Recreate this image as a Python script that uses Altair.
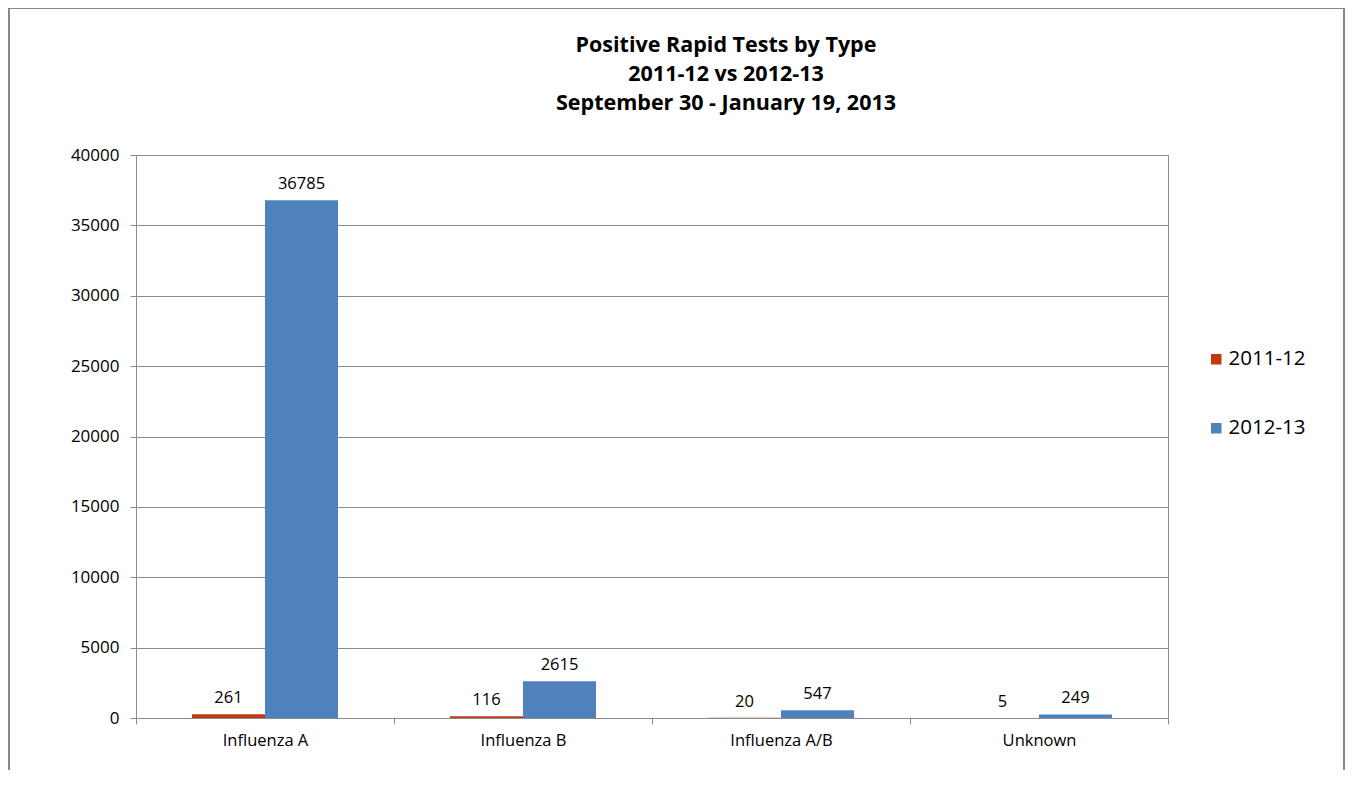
import altair as alt
import pandas as pd

categories = ["Influenza A", "Influenza B", "Influenza A/B", "Unknown"]
seasons = ["2011-12", "2012-13"]
values_2011_12 = [261, 116, 20, 5]
values_2012_13 = [36785, 2615, 547, 249]
y_ticks = [0, 5000, 10000, 15000, 20000, 25000, 30000, 35000, 40000]
colors = ["#BF3A10", "#4F81BD"]
title_lines = ["Positive Rapid Tests by Type", "2011-12 vs 2012-13",
               "September 30 - January 19, 2013"]

rows = []
for c, a, b in zip(categories, values_2011_12, values_2012_13):
    rows.append({"type": c, "season": seasons[0], "value": a})
    rows.append({"type": c, "season": seasons[1], "value": b})
df = pd.DataFrame(rows)

FONT = "Open Sans"
GRAY = "#8C8C8C"

x_scale = alt.Scale(paddingInner=0, paddingOuter=0)
off_scale = alt.Scale(paddingInner=0, paddingOuter=0.767)

x_enc = alt.X(
    "type:N",
    sort=categories,
    scale=x_scale,
    axis=alt.Axis(
        title=None, labelAngle=0, labelFontSize=16.5, labelFont=FONT,
        labelColor="#000000", tickBand="extent", tickSize=6,
        tickColor=GRAY, domainColor=GRAY, labelPadding=8,
    ),
)
xoff = alt.XOffset("season:N", sort=seasons, scale=off_scale)
y_enc = alt.Y(
    "value:Q",
    scale=alt.Scale(domain=[0, 40000], nice=False),
    axis=alt.Axis(
        title=None, values=y_ticks, format="d", labelFontSize=17,
        labelFont=FONT, labelColor="#000000", tickSize=6, tickColor=GRAY,
        domainColor=GRAY, gridColor=GRAY, labelPadding=11,
    ),
)

base = alt.Chart(df)

bars = base.mark_bar().encode(
    x=x_enc,
    xOffset=xoff,
    y=y_enc,
    color=alt.Color(
        "season:N",
        scale=alt.Scale(domain=seasons, range=colors),
        legend=alt.Legend(
            title=None, orient="none", legendX=1070, legendY=194,
            symbolType="square", symbolSize=110, symbolStrokeWidth=0,
            labelFontSize=20.5, labelFont=FONT, labelColor="#000000",
            rowPadding=48, labelOffset=2,
        ),
    ),
)

labels = base.mark_text(dy=-16, fontSize=16.5, font=FONT, color="#000000").encode(
    x=alt.X("type:N", sort=categories, scale=x_scale),
    xOffset=alt.XOffset("season:N", sort=seasons, scale=off_scale),
    y=alt.Y("value:Q"),
    text=alt.Text("value:Q", format="d"),
)

tdf = pd.DataFrame({"line": title_lines, "yy": [-109, -80, -51]})
title = alt.Chart(tdf).mark_text(
    font=FONT, fontSize=21.5, fontWeight="bold", color="#000000",
    align="center", baseline="middle",
).encode(
    x=alt.value(590),
    y=alt.Y("yy:Q", scale=None),
    text="line:N",
)

frame = alt.Chart(pd.DataFrame({"f": [0]})).mark_rect(
    fill=None, fillOpacity=0, stroke="#888888", strokeWidth=2
).encode(
    x=alt.value(-127), x2=alt.value(1208),
    y=alt.value(-147), y2=alt.value(700),
)

chart = alt.layer(frame, bars, labels, title).properties(
    width=1032,
    height=563,
    autosize=alt.AutoSizeParams(type="none"),
    padding={"left": 128, "top": 147, "right": 177, "bottom": 52},
).configure_view(stroke=GRAY, strokeWidth=1)

chart.save("out.html", embed_options={"renderer": "svg", "actions": False})
